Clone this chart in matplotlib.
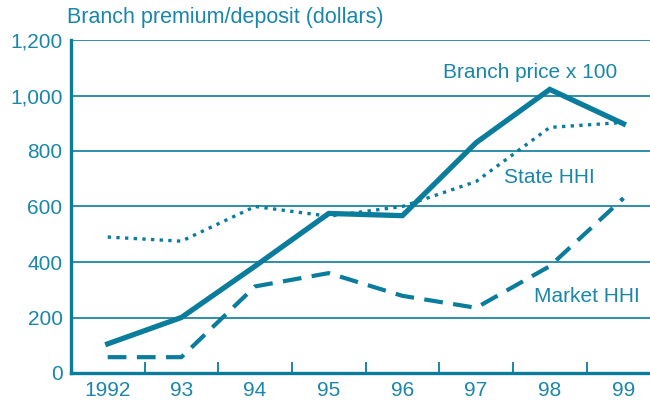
import matplotlib
matplotlib.use("Agg")
import matplotlib.pyplot as plt
import numpy as np

years = ["1992", "93", "94", "95", "96", "97", "98", "99"]
branch_price = [105, 200, 385, 575, 567, 830, 1022, 898]
state_hhi = [490, 475, 600, 565, 600, 690, 885, 903]
market_hhi = [57, 57, 312, 360, 278, 235, 385, 630]
yticks = [0, 200, 400, 600, 800, 1000, 1200]
ytick_labels = ["0", "200", "400", "600", "800", "1,000", "1,200"]

C = "#0a7c9c"
TC = "#1a86a8"
plt.rcParams['font.family'] = ['Liberation Sans', 'DejaVu Sans']
FS = 15

fig = plt.figure(figsize=(6.5, 4), dpi=100)
ax = fig.add_axes([0.109, 0.0675, 0.891, 0.8325])
x = np.arange(len(years))

ax.plot(x, branch_price, color=C, lw=3.8, solid_joinstyle='miter', zorder=4)
ax.plot(x, state_hhi, color=C, lw=2.4, linestyle=(0, (1, 1.6)), zorder=3)
ax.plot(x, market_hhi, color=C, lw=3.0, linestyle=(0, (4.5, 2.5)), zorder=3)

ax.set_xlim(-0.5, 7.36)
ax.set_ylim(0, 1200)
ax.set_yticks(yticks)
ax.set_yticklabels(ytick_labels)
ax.set_xticks(x)
ax.set_xticklabels(years)
ax.set_xticks(np.arange(0.5, 7.4, 1), minor=True)
ax.tick_params(axis='x', which='major', length=0, pad=6, labelsize=FS, labelcolor=TC)
ax.tick_params(axis='x', which='minor', direction='in', length=8, width=1.3, color=C)
ax.tick_params(axis='y', length=0, pad=6, labelsize=FS, labelcolor=TC)
ax.grid(axis='y', color=C, lw=1.2, zorder=1)
ax.set_axisbelow(True)
for s in ['top', 'right']:
    ax.spines[s].set_visible(False)
for s in ['left', 'bottom']:
    ax.spines[s].set_color(C)
    ax.spines[s].set_linewidth(2.4)

fig.text(67/650, 1 - 18/400, "Branch premium/deposit (dollars)", fontsize=15.5,
         color=TC, ha='left', va='center')
ax.text(5.73, 1083, "Branch price x 100", fontsize=FS, color=TC, ha='center', va='center')
ax.text(6.0, 704, "State HHI", fontsize=FS, color=TC, ha='center', va='center')
ax.text(6.5, 274, "Market HHI", fontsize=FS, color=TC, ha='center', va='center')

fig.savefig("out.png", dpi=100)
